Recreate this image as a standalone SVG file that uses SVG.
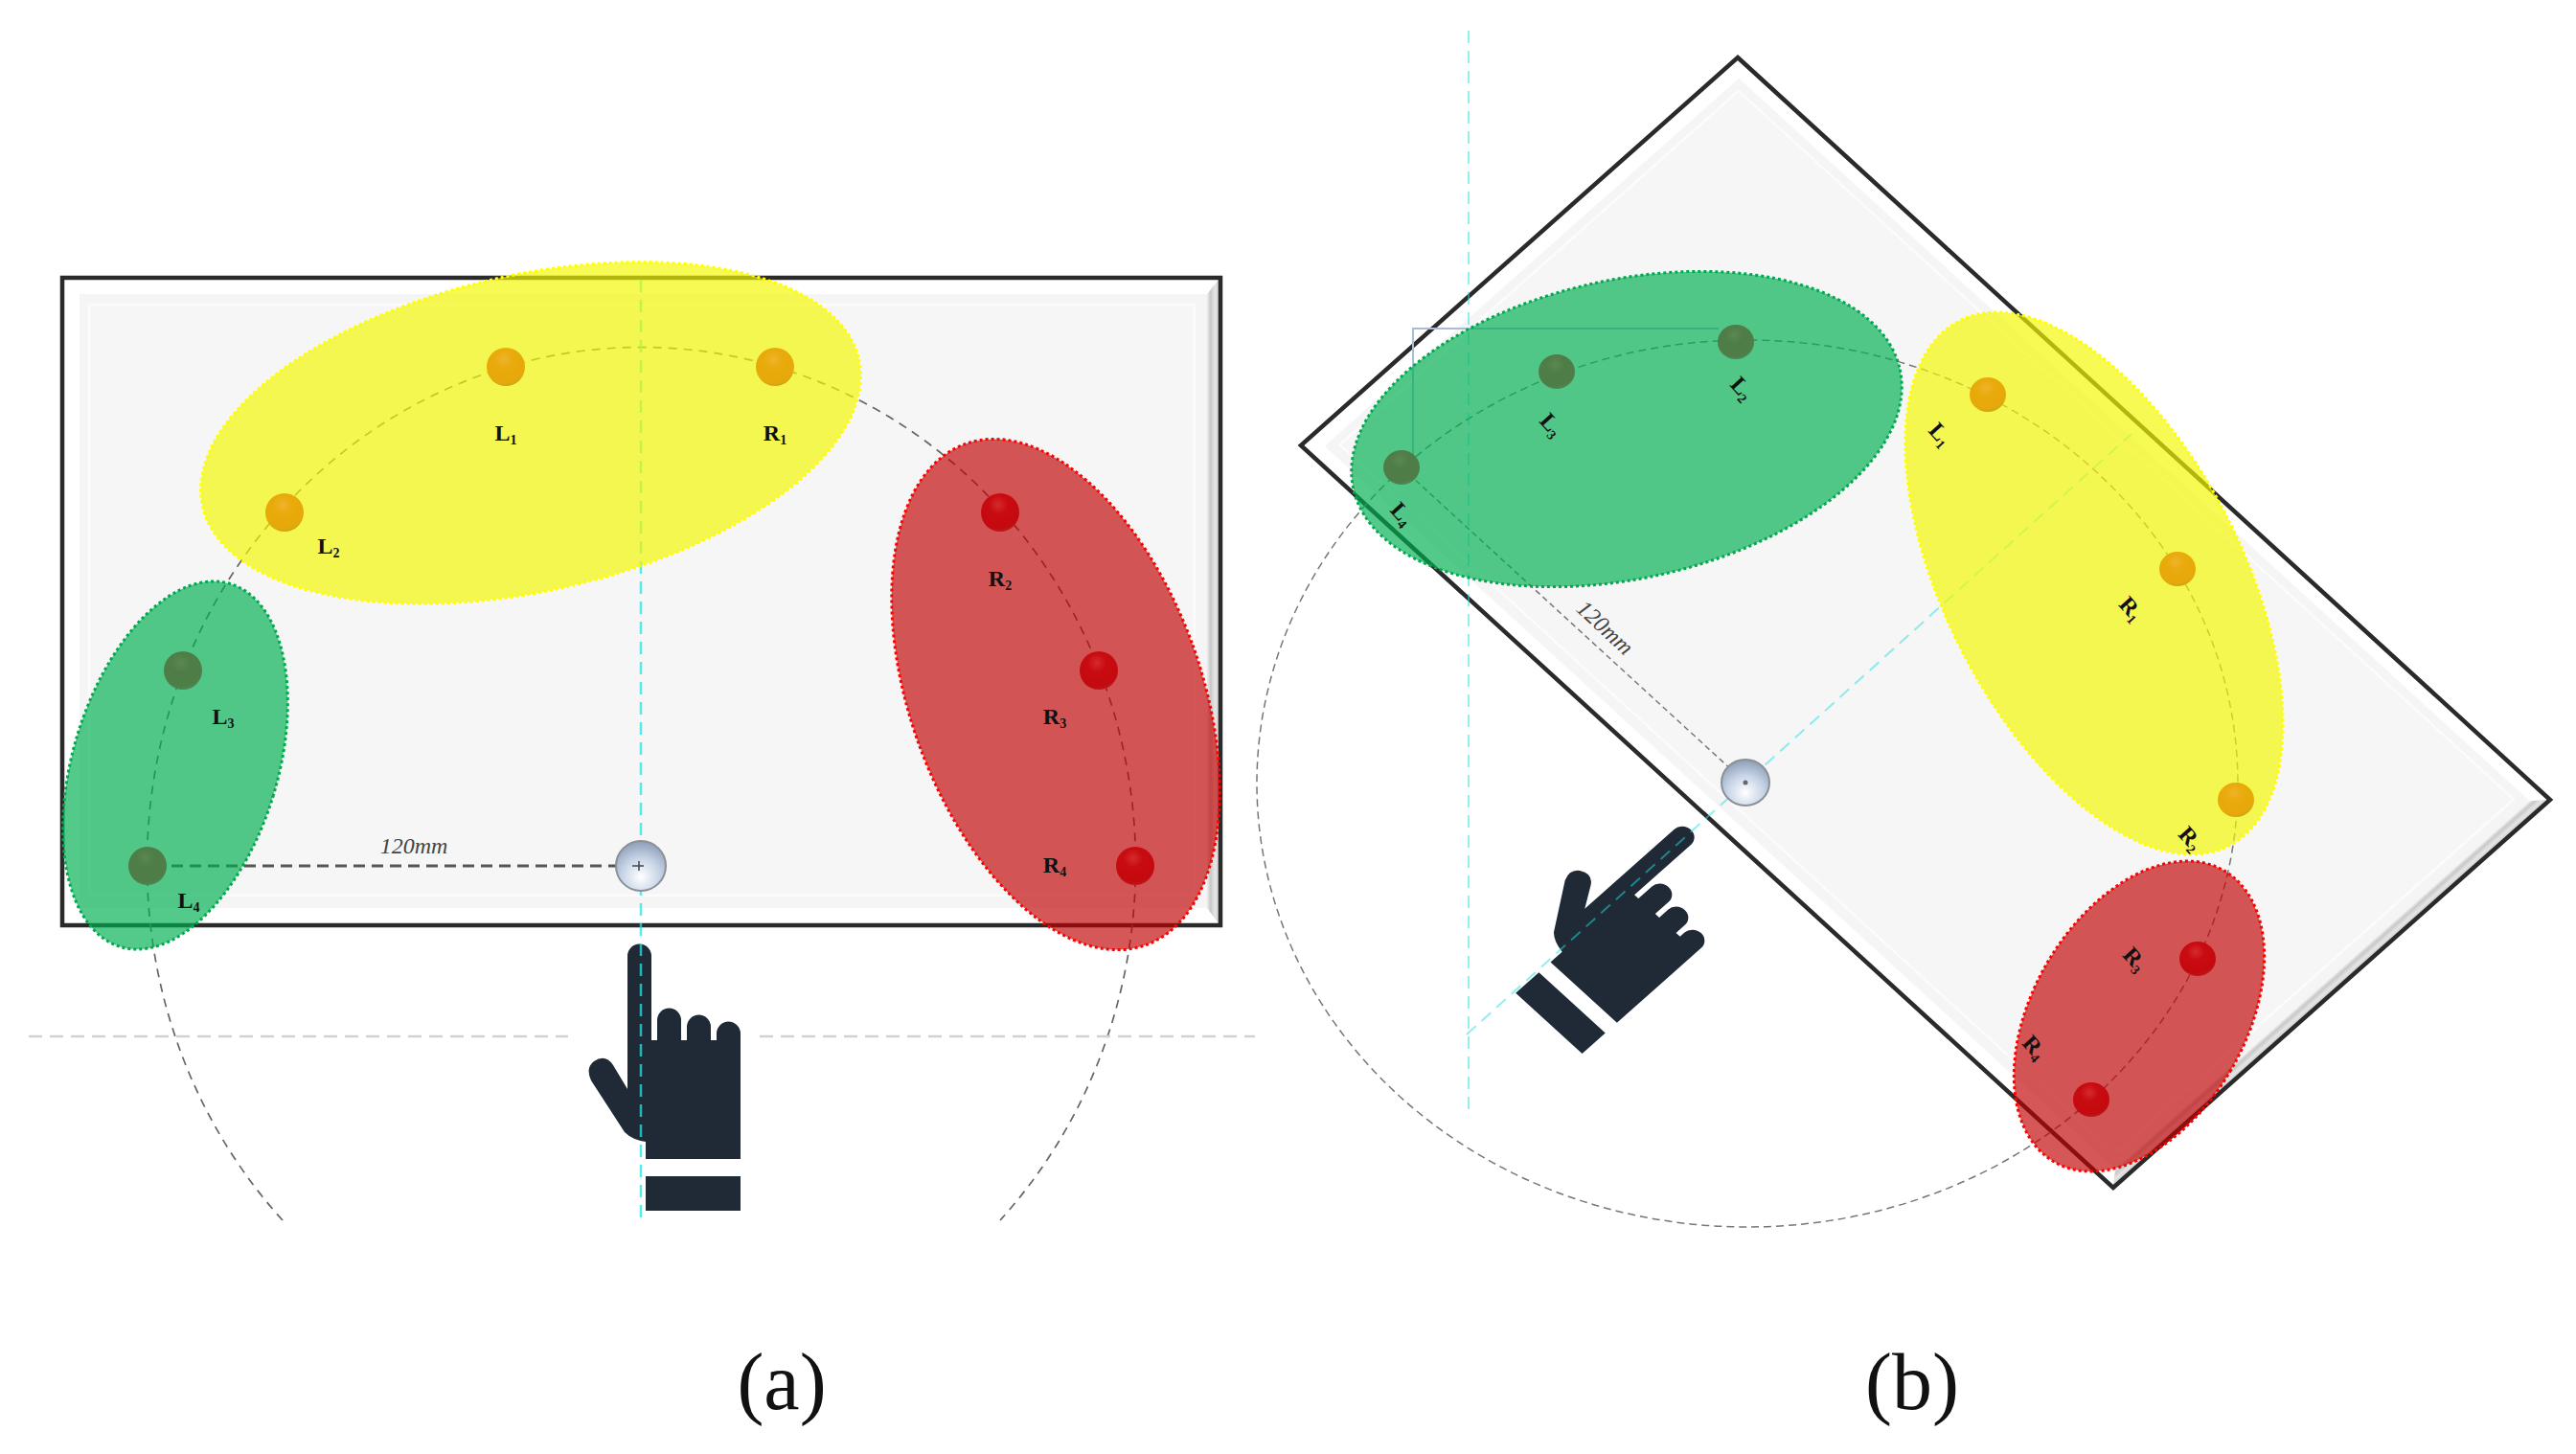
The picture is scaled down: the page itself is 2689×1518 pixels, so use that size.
<svg xmlns="http://www.w3.org/2000/svg" xmlns:xlink="http://www.w3.org/1999/xlink" width="2689" height="1518" viewBox="0 0 2689 1518">
<style>
.lbl{font-family:"Liberation Serif",serif;font-weight:bold;font-size:24px;fill:#111;text-anchor:middle}
.sub{font-size:14px}
.dim{font-family:"Liberation Serif",serif;font-style:italic;font-size:24px;fill:#444;text-anchor:middle}
.cap{font-family:"Liberation Serif",serif;font-size:84px;fill:#111;text-anchor:middle}
.arc{fill:none;stroke:#666;stroke-width:1.7;stroke-dasharray:9 7}
.arcb{fill:none;stroke:#777;stroke-width:1.5;stroke-dasharray:8 5}
.cy{fill:none;stroke:#22e6e6;stroke-width:2.5;stroke-dasharray:13 8;stroke-opacity:.75}
.cyb{fill:none;stroke:#22e0e0;stroke-width:2;stroke-dasharray:13 8;stroke-opacity:.5}
.gr{fill:none;stroke:#d2d2d2;stroke-width:2.5;stroke-dasharray:14 8}
.dimline{fill:none;stroke:#555;stroke-width:3;stroke-dasharray:12 7}
.y{fill:#f3f800;fill-opacity:.68;stroke:#ffff00;stroke-width:3;stroke-dasharray:3 3}
.g{fill:#00b050;fill-opacity:.67;stroke:#00a850;stroke-width:3;stroke-dasharray:3 3}
.r{fill:#c00000;fill-opacity:.66;stroke:#ff0000;stroke-width:3;stroke-dasharray:3 3}
.mo{fill:url(#mo)}
.mg{fill:url(#mg)}
.mr{fill:url(#mr)}
.hand{fill:#1f2a36}
</style>
<defs>
<linearGradient id="bevel" x1="0" y1="0" x2="1" y2="0"><stop offset="0" stop-color="#eeeeee"/><stop offset=".3" stop-color="#c8c8c8"/><stop offset=".7" stop-color="#e6e6e6"/><stop offset="1" stop-color="#cfcfcf"/></linearGradient>
<radialGradient id="knob" cx=".5" cy=".72" r=".7"><stop offset="0" stop-color="#ffffff"/><stop offset=".55" stop-color="#c6d3e6"/><stop offset="1" stop-color="#8fa0b8"/></radialGradient>
<radialGradient id="mo" cx=".45" cy=".3" r=".72"><stop offset="0" stop-color="#efb32a"/><stop offset=".35" stop-color="#e9aa0b"/><stop offset=".85" stop-color="#e6a80a"/><stop offset="1" stop-color="#c9a512"/></radialGradient>
<radialGradient id="mg" cx=".45" cy=".3" r=".72"><stop offset="0" stop-color="#5c8850"/><stop offset=".35" stop-color="#4f7d48"/><stop offset=".85" stop-color="#4f7d48"/><stop offset="1" stop-color="#4b8a5a"/></radialGradient>
<radialGradient id="mr" cx=".45" cy=".3" r=".72"><stop offset="0" stop-color="#d52a2e"/><stop offset=".35" stop-color="#c80b10"/><stop offset=".85" stop-color="#c40a0f"/><stop offset="1" stop-color="#b81c20"/></radialGradient>
<g id="panel">
<rect x="65" y="290" width="1209" height="676" fill="#ffffff"/>
<rect x="83" y="307" width="1177" height="641" fill="#f5f5f5"/>
<rect x="93" y="318" width="1154" height="617" fill="#f6f6f6" stroke="#fcfcfc" stroke-width="2.5"/>
<polygon points="1272,292 1260,307 1260,948 1272,964" fill="url(#bevel)"/>
<rect x="65" y="290" width="1209" height="676" fill="none" stroke="#2a2a2a" stroke-width="4.5" vector-effect="non-scaling-stroke"/>
</g>
<g id="handshape">
<path d="M655 998a12.5 12.5 0 0 1 25 0V1086H686V1065a12.5 12.5 0 0 1 25 0V1086H717V1072a12.5 12.5 0 0 1 25 0V1086H748V1079a12.5 12.5 0 0 1 25 0V1210H674V1192Q660 1190 652 1182L617 1128Q611 1115 620 1108Q632 1100 640 1112L655 1137Z"/>
<rect x="674" y="1228" width="99" height="36"/>
</g>
</defs>

<g id="panel-a"><use xlink:href="#panel"/></g>
<g id="panel-b"><use xlink:href="#panel" transform="matrix(.7014 .641 -.6746 .5991 1964 -155.4)"/></g>

<g id="hand-a" class="hand"><use xlink:href="#handshape"/></g>
<g id="hand-b" class="hand"><use xlink:href="#handshape" transform="matrix(.7008 .6405 -.6726 .5973 1960 -150)"/></g>

<g id="connectors">
<path class="arc" d="M295 1274A516 540 0 1 1 1044 1274"/>
<line class="gr" x1="30" y1="1082" x2="593" y2="1082"/>
<line class="gr" x1="793" y1="1082" x2="1310" y2="1082"/>
<line class="cy" x1="669" y1="292" x2="669" y2="1276"/>
<line class="dimline" x1="160" y1="904" x2="669" y2="904"/>
<ellipse class="arcb" cx="1824" cy="818" rx="512" ry="463"/>
<line class="cyb" x1="1533" y1="32" x2="1533" y2="1163"/>
<line class="cyb" x1="1531" y1="1080" x2="2225" y2="453"/>
<line x1="1463" y1="488" x2="1822" y2="817" stroke="#777" stroke-width="1.5" stroke-dasharray="6 4"/>
<path d="M1475 480V343H1794" fill="none" stroke="#a8bcd6" stroke-width="2"/>
</g>

<g id="zone-a-yellow"><ellipse class="y" cx="554" cy="452" rx="351" ry="165" transform="rotate(-12.6 554 452)"/></g>
<g id="zone-a-green"><ellipse class="g" cx="183" cy="799" rx="107" ry="198" transform="rotate(16.8 183 799)"/></g>
<g id="zone-a-red"><ellipse class="r" cx="1102" cy="725" rx="152" ry="278" transform="rotate(-19.8 1102 725)"/></g>
<g id="zone-b-green"><ellipse class="g" cx="1698" cy="448" rx="292" ry="156" transform="rotate(-12.3 1698 448)"/></g>
<g id="zone-b-yellow"><ellipse class="y" cx="2186" cy="609" rx="155" ry="308" transform="rotate(-27.2 2186 609)"/></g>
<g id="zone-b-red"><ellipse class="r" cx="2233" cy="1061" rx="111" ry="176" transform="rotate(30.3 2233 1061)"/></g>

<g id="a-L1"><circle class="mo" cx="528" cy="383" r="20"/><text class="lbl" x="528" y="460">L<tspan class="sub" dy="4">1</tspan></text></g>
<g id="a-R1"><circle class="mo" cx="809" cy="383" r="20"/><text class="lbl" x="809" y="460">R<tspan class="sub" dy="4">1</tspan></text></g>
<g id="a-L2"><circle class="mo" cx="297" cy="535" r="20"/><text class="lbl" x="343" y="578">L<tspan class="sub" dy="4">2</tspan></text></g>
<g id="a-L3"><circle class="mg" cx="191" cy="700" r="20"/><text class="lbl" x="233" y="756">L<tspan class="sub" dy="4">3</tspan></text></g>
<g id="a-L4"><circle class="mg" cx="154" cy="904" r="20"/><text class="lbl" x="197" y="948">L<tspan class="sub" dy="4">4</tspan></text></g>
<g id="a-R2"><circle class="mr" cx="1044" cy="535" r="20"/><text class="lbl" x="1044" y="612">R<tspan class="sub" dy="4">2</tspan></text></g>
<g id="a-R3"><circle class="mr" cx="1147" cy="700" r="20"/><text class="lbl" x="1101" y="756">R<tspan class="sub" dy="4">3</tspan></text></g>
<g id="a-R4"><circle class="mr" cx="1185" cy="904" r="20"/><text class="lbl" x="1101" y="911">R<tspan class="sub" dy="4">4</tspan></text></g>
<g id="a-center"><circle cx="669" cy="904" r="26" fill="url(#knob)" stroke="#8b9097" stroke-width="2"/><path d="M660 904H672M667 899V909" stroke="#445" stroke-width="1.5"/></g>
<text class="dim" x="432" y="891">120mm</text>

<g id="b-L4"><ellipse class="mg" cx="1463" cy="488" rx="19" ry="18"/><text class="lbl" transform="translate(1463 537) rotate(48)" y="7">L<tspan class="sub" dy="4">4</tspan></text></g>
<g id="b-L3"><ellipse class="mg" cx="1625" cy="388" rx="19" ry="18"/><text class="lbl" transform="translate(1619 444) rotate(48)" y="7">L<tspan class="sub" dy="4">3</tspan></text></g>
<g id="b-L2"><ellipse class="mg" cx="1812" cy="357" rx="19" ry="18"/><text class="lbl" transform="translate(1818 406) rotate(48)" y="7">L<tspan class="sub" dy="4">2</tspan></text></g>
<g id="b-L1"><ellipse class="mo" cx="2075" cy="412" rx="19" ry="18"/><text class="lbl" transform="translate(2025 454) rotate(48)" y="7">L<tspan class="sub" dy="4">1</tspan></text></g>
<g id="b-R1"><ellipse class="mo" cx="2273" cy="594" rx="19" ry="18"/><text class="lbl" transform="translate(2224 636) rotate(48)" y="7">R<tspan class="sub" dy="4">1</tspan></text></g>
<g id="b-R2"><ellipse class="mo" cx="2334" cy="835" rx="19" ry="18"/><text class="lbl" transform="translate(2286 876) rotate(48)" y="7">R<tspan class="sub" dy="4">2</tspan></text></g>
<g id="b-R3"><ellipse class="mr" cx="2294" cy="1001" rx="19" ry="18"/><text class="lbl" transform="translate(2228 1002) rotate(48)" y="7">R<tspan class="sub" dy="4">3</tspan></text></g>
<g id="b-R4"><ellipse class="mr" cx="2183" cy="1148" rx="19" ry="18"/><text class="lbl" transform="translate(2123 1094) rotate(48)" y="7">R<tspan class="sub" dy="4">4</tspan></text></g>
<g id="b-center"><ellipse cx="1822" cy="817" rx="25" ry="24" fill="url(#knob)" stroke="#8b9097" stroke-width="2"/><circle cx="1822" cy="817" r="2.5" fill="#667"/></g>
<text class="dim" transform="translate(1670 661) rotate(43)">120mm</text>

<text class="cap" x="816" y="1471">(a)</text>
<text class="cap" x="1996" y="1471">(b)</text>
</svg>
